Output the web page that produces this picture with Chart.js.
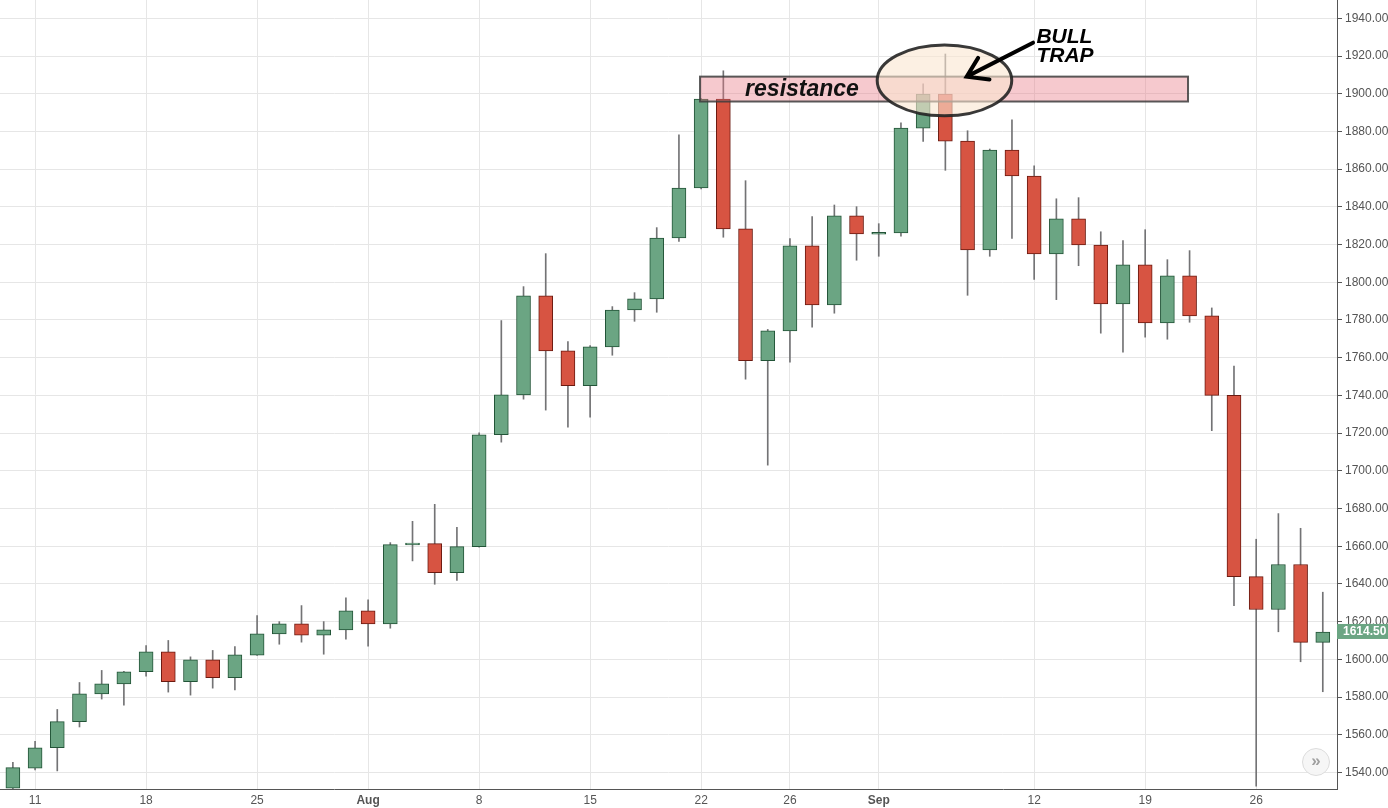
<!DOCTYPE html>
<html>
<head>
<meta charset="utf-8">
<title>Gold daily - bull trap</title>
<script src="https://cdn.jsdelivr.net/npm/chart.js@4.4.1/dist/chart.umd.min.js"></script>
<style>
  html, body { margin: 0; padding: 0; background: #fff; }
  #wrap { position: relative; width: 1388px; height: 808px; }
  #scroll-btn {
    position: absolute; left: 1302px; top: 748px; width: 26px; height: 26px;
    border-radius: 50%; border: 1px solid #dcdcdc; background: rgba(246,246,246,0.95);
    color: #a0a0a0; font: bold 17px "Liberation Sans", Arial, sans-serif;
    line-height: 24px; text-align: center;
  }
</style>
</head>
<body>
<div id="wrap">
  <canvas id="chart"></canvas>
  <div id="scroll-btn">&raquo;</div>
</div>
<script>
// --- Data (daily candles, Jul 8 - Sep 29) ---
const openPrices = [
  1531.7, 1542.3, 1553.1, 1566.9, 1581.7, 1587.0, 1593.4, 1604.0, 1588.1, 1599.7,
  1590.2, 1602.2, 1613.5, 1618.8, 1612.8, 1615.6, 1625.7, 1618.8, 1660.7, 1661.4,
  1646.0, 1659.8, 1719.1, 1740.3, 1792.8, 1763.6, 1745.1, 1765.7, 1785.3, 1791.2,
  1823.5, 1850.0, 1897.2, 1828.3, 1758.4, 1774.2, 1819.3, 1788.0, 1835.2, 1825.5,
  1826.2, 1881.8, 1899.8, 1874.9, 1817.2, 1870.1, 1856.4, 1815.0, 1833.6, 1819.8,
  1788.5, 1809.2, 1778.5, 1803.4, 1782.2, 1740.0, 1643.9, 1626.4, 1650.3, 1609.0,
];
const highPrices = [
  1545.3, 1556.5, 1573.4, 1587.7, 1594.1, 1593.6, 1607.3, 1610.0, 1601.3, 1604.7,
  1606.8, 1623.2, 1620.0, 1628.5, 1620.0, 1632.6, 1631.5, 1661.9, 1673.2, 1682.2,
  1670.0, 1720.2, 1779.7, 1797.7, 1815.2, 1768.6, 1766.4, 1787.1, 1794.5, 1829.0,
  1878.2, 1897.5, 1912.2, 1853.9, 1775.0, 1823.2, 1834.8, 1841.0, 1840.1, 1831.1,
  1884.6, 1905.3, 1921.1, 1880.4, 1870.7, 1886.2, 1861.8, 1844.3, 1844.9, 1826.8,
  1822.1, 1827.9, 1812.0, 1816.8, 1786.4, 1755.5, 1663.7, 1677.3, 1669.5, 1635.6,
];
const lowPrices = [
  1530.5, 1541.3, 1540.8, 1564.1, 1578.9, 1575.7, 1591.1, 1582.6, 1581.0, 1584.7,
  1583.7, 1602.0, 1608.0, 1609.1, 1602.7, 1610.7, 1607.0, 1616.5, 1652.2, 1639.8,
  1641.9, 1659.5, 1715.2, 1738.0, 1732.2, 1723.2, 1728.5, 1761.3, 1779.3, 1784.1,
  1821.7, 1849.5, 1823.9, 1748.6, 1703.0, 1757.6, 1776.2, 1783.6, 1811.7, 1813.8,
  1824.4, 1874.7, 1859.4, 1793.1, 1813.8, 1823.3, 1801.5, 1790.8, 1808.8, 1773.0,
  1762.9, 1770.9, 1769.8, 1778.8, 1721.3, 1628.4, 1532.7, 1614.6, 1598.7, 1582.8,
];
const closePrices = [
  1542.5, 1553.1, 1566.9, 1581.7, 1587.0, 1593.4, 1604.0, 1588.1, 1599.7, 1590.2,
  1602.4, 1613.5, 1618.8, 1612.8, 1615.6, 1625.7, 1618.8, 1660.8, 1661.7, 1646.0,
  1659.8, 1719.1, 1740.3, 1792.8, 1763.6, 1745.1, 1765.7, 1785.3, 1791.2, 1823.5,
  1850.0, 1897.2, 1828.3, 1758.4, 1774.2, 1819.3, 1788.0, 1835.2, 1825.6, 1826.5,
  1881.8, 1899.8, 1874.9, 1817.2, 1870.1, 1856.4, 1815.0, 1833.6, 1819.8, 1788.5,
  1809.2, 1778.5, 1803.4, 1782.2, 1740.0, 1643.9, 1626.4, 1650.3, 1609.0, 1614.5,
];

// date labels and the candle index they sit on
const tickIndex  = [1, 6, 11, 16, 21, 26, 31, 35, 39, 46, 51, 56];
const tickLabels = ['11', '18', '25', 'Aug', '8', '15', '22', '26', 'Sep', '12', '19', '26'];
const monthLabels = ['Aug', 'Sep'];

// --- Drawings (in candle index / price units) ---
const RES_ZONE = { from: 30.95, to: 52.93, top: 1909.1, bottom: 1895.9, labelAt: 32.98 };
const TRAP_RING = { x: 41.96, y: 1907.1, rx: 3.03, ry: 18.8 };
const TRAP_ARROW = { x0: 45.95, y0: 1927.1, x1: 42.96, y1: 1909.1 };
const TRAP_TEXT = { x: 46.1, y: 1926.7 };

const UP = '#6ba583', UP_BORDER = '#225437';
const DOWN = '#d75442', DOWN_BORDER = '#6b1a10';
const WICK = '#737375';

const isUp = closePrices.map((c, i) => c >= openPrices[i]);
const bodies = openPrices.map((o, i) => ({ x: i, y: [o, closePrices[i]] }));
const wicks = lowPrices.map((l, i) => ({ x: i, y: [l, highPrices[i]] }));

Chart.defaults.font.family = '"Liberation Sans", Arial, sans-serif';
Chart.defaults.font.size = 12;

// no edge padding for the tick labels, the plot runs to the canvas top
function noPadding(s) {
  s.paddingTop = 0; s.paddingBottom = 0; s.paddingLeft = 0; s.paddingRight = 0;
}

// --- Plugin: resistance zone, bull trap ring, price tag ---
const drawings = {
  id: 'drawings',
  afterDatasetsDraw(chart) {
    const { ctx, scales: { x, y } } = chart;
    ctx.save();

    const zx0 = x.getPixelForValue(RES_ZONE.from);
    const zx1 = x.getPixelForValue(RES_ZONE.to);
    const zy0 = y.getPixelForValue(RES_ZONE.top);
    const zy1 = y.getPixelForValue(RES_ZONE.bottom);
    ctx.fillStyle = 'rgba(232,120,132,0.4)';
    ctx.fillRect(zx0, zy0, zx1 - zx0, zy1 - zy0);
    ctx.lineWidth = 2;
    ctx.strokeStyle = 'rgba(60,60,60,0.85)';
    ctx.strokeRect(zx0, zy0, zx1 - zx0, zy1 - zy0);

    ctx.font = 'italic bold 23px "Liberation Sans", Arial, sans-serif';
    ctx.fillStyle = '#111';
    ctx.textBaseline = 'middle';
    ctx.fillText('resistance', x.getPixelForValue(RES_ZONE.labelAt), (zy0 + zy1) / 2 + 1);

    // ring
    const cx = x.getPixelForValue(TRAP_RING.x);
    const cy = y.getPixelForValue(TRAP_RING.y);
    const rx = x.getPixelForValue(TRAP_RING.x + TRAP_RING.rx) - cx;
    const ry = y.getPixelForValue(TRAP_RING.y - TRAP_RING.ry) - cy;
    ctx.beginPath();
    ctx.ellipse(cx, cy, rx, ry, 0, 0, Math.PI * 2);
    ctx.fillStyle = 'rgba(250,230,208,0.6)';
    ctx.fill();
    ctx.lineWidth = 3;
    ctx.strokeStyle = 'rgba(35,35,35,0.9)';
    ctx.stroke();

    // arrow
    const ax0 = x.getPixelForValue(TRAP_ARROW.x0), ay0 = y.getPixelForValue(TRAP_ARROW.y0);
    const ax1 = x.getPixelForValue(TRAP_ARROW.x1), ay1 = y.getPixelForValue(TRAP_ARROW.y1);
    const ang = Math.atan2(ay0 - ay1, ax0 - ax1);
    ctx.strokeStyle = '#000';
    ctx.lineWidth = 4;
    ctx.lineCap = 'round';
    ctx.beginPath();
    ctx.moveTo(ax0, ay0);
    ctx.lineTo(ax1, ay1);
    ctx.moveTo(ax1 + 22 * Math.cos(ang - 0.55), ay1 + 22 * Math.sin(ang - 0.55));
    ctx.lineTo(ax1, ay1);
    ctx.lineTo(ax1 + 23 * Math.cos(ang + 0.6), ay1 + 23 * Math.sin(ang + 0.6));
    ctx.stroke();

    ctx.font = 'italic bold 21px "Liberation Sans", Arial, sans-serif';
    ctx.fillStyle = '#000';
    ctx.textBaseline = 'alphabetic';
    const tx = x.getPixelForValue(TRAP_TEXT.x), ty = y.getPixelForValue(TRAP_TEXT.y);
    ctx.fillText('BULL', tx, ty);
    ctx.fillText('TRAP', tx, ty + 18.5);

    ctx.restore();
  },
  afterDraw(chart) {
    const { ctx, chartArea, scales: { y } } = chart;
    const last = closePrices[closePrices.length - 1];
    const py = y.getPixelForValue(last);
    ctx.save();
    ctx.fillStyle = UP;
    ctx.fillRect(chartArea.right, py - 8, chart.width - chartArea.right, 15);
    ctx.font = 'bold 12px "Liberation Sans", Arial, sans-serif';
    ctx.fillStyle = '#fff';
    ctx.textBaseline = 'middle';
    ctx.fillText(last.toFixed(2), chartArea.right + 6, py);
    ctx.restore();
  },
};

// --- Chart ---
new Chart(document.getElementById('chart'), {
  type: 'bar',
  data: {
    datasets: [
      {
        label: 'body',
        data: bodies,
        backgroundColor: isUp.map((u) => (u ? UP : DOWN)),
        borderColor: isUp.map((u) => (u ? UP_BORDER : DOWN_BORDER)),
        borderWidth: 1,
        borderSkipped: false,
        barThickness: 14,
        grouped: false,
        order: 1,
      },
      {
        label: 'wick',
        data: wicks,
        backgroundColor: WICK,
        borderWidth: 0,
        barThickness: 1,
        grouped: false,
        order: 2,
      },
    ],
  },
  options: {
    responsive: true,
    maintainAspectRatio: false,
    animation: false,
    layout: { padding: 0 },
    plugins: { legend: { display: false }, tooltip: { enabled: false } },
    scales: {
      x: {
        type: 'linear',
        min: -0.58,
        max: 59.64,
        offset: false,
        afterFit: (s) => { s.height = 19; noPadding(s); },
        afterBuildTicks: (s) => { s.ticks = tickIndex.map((v) => ({ value: v })); },
        grid: { color: '#e6e6e6', offset: false, drawTicks: false },
        border: { display: true, color: '#555', width: 1 },
        ticks: {
          autoSkip: false,
          maxRotation: 0,
          padding: 4,
          color: '#555',
          font: (c) => ({ size: 12, weight: monthLabels.includes(tickLabels[c.index]) ? 'bold' : 'normal' }),
          callback: (v, i) => tickLabels[i],
        },
      },
      y: {
        position: 'right',
        min: 1531.2,
        max: 1949.75,
        beginAtZero: false,
        afterFit: (s) => { s.width = 51; noPadding(s); },
        grid: { color: '#e6e6e6', tickColor: '#555', tickLength: 5 },
        border: { display: true, color: '#555', width: 1 },
        ticks: {
          stepSize: 20,
          includeBounds: false,
          maxTicksLimit: 100,
          padding: 3,
          color: '#555',
          font: { size: 12 },
          callback: (v) => Number(v).toFixed(2),
        },
      },
    },
  },
  plugins: [drawings],
});
</script>
</body>
</html>
